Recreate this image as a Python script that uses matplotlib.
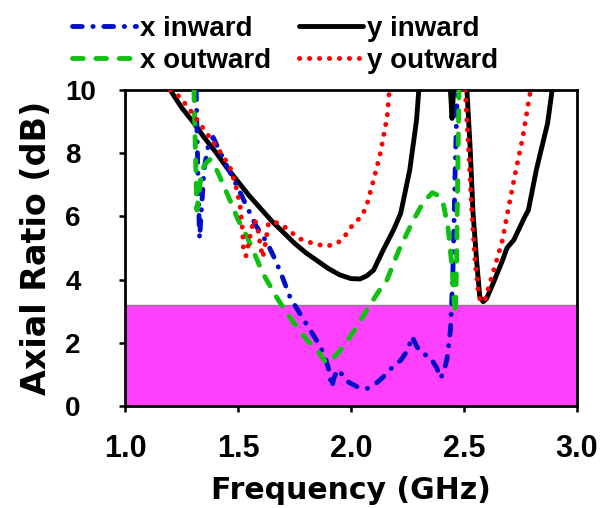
import numpy as np
import matplotlib.pyplot as plt
from matplotlib.lines import Line2D

plt.rcParams['font.family'] = ['Liberation Sans', 'DejaVu Sans']
plt.rcParams['font.weight'] = 'bold'

# x inward (blue dash-dot)
x_in_f = [1.315, 1.322, 1.33, 1.338, 1.35, 1.37, 1.39, 1.41, 1.45, 1.5, 1.54, 1.58,
          1.63, 1.66, 1.69, 1.73, 1.78, 1.82, 1.85, 1.88, 1.90, 1.915, 1.925, 1.94,
          1.96, 1.99, 2.03, 2.07, 2.10, 2.14, 2.18, 2.22, 2.25, 2.27, 2.29, 2.31,
          2.35, 2.38, 2.395, 2.41, 2.425, 2.44, 2.45, 2.455, 2.46, 2.47]
x_in_ar = [10, 7.5, 5.3, 6.2, 7.5, 8.3, 8.5, 8.2, 7.6, 6.9, 6.3, 5.7,
           5.15, 4.7, 4.2, 3.45, 2.85, 2.4, 2.05, 1.65, 1.2, 0.6, 0.9, 1.15,
           1.0, 0.75, 0.6, 0.55, 0.65, 0.9, 1.2, 1.45, 1.75, 2.2, 1.9, 1.68,
           1.55, 1.2, 0.88, 1.05, 1.5, 2.4, 4.0, 5.5, 7.2, 10]

# x outward (green dashed)
x_out_f = [1.305, 1.31, 1.318, 1.325, 1.34, 1.36, 1.376, 1.40, 1.42, 1.465, 1.50,
           1.54, 1.58, 1.61, 1.67, 1.72, 1.77, 1.81, 1.85, 1.89, 1.92, 1.965, 2.02,
           2.07, 2.12, 2.16, 2.21, 2.27, 2.32, 2.36, 2.39, 2.41, 2.43, 2.447, 2.455,
           2.462, 2.467, 2.472, 2.478]
x_out_ar = [10, 8.5, 6.2, 6.6, 7.47, 7.7, 7.8, 7.55, 7.25, 6.5, 5.9,
            5.35, 4.7, 4.2, 3.45, 2.9, 2.4, 2.05, 1.77, 1.36, 1.5, 1.87, 2.45,
            3.04, 3.6, 4.0, 4.9, 5.8, 6.45, 6.75, 6.65, 6.35, 5.6, 4.4, 3.45,
            2.9, 4.5, 7.2, 10]

# y inward (black solid), three pieces
y_in_f1 = [1.2, 1.25, 1.3, 1.35, 1.4, 1.45, 1.5, 1.55, 1.6, 1.65, 1.7, 1.75, 1.8,
           1.85, 1.9, 1.95, 2.0, 2.04, 2.07, 2.1, 2.14, 2.19, 2.22, 2.26, 2.29, 2.30]
y_in_ar1 = [10, 9.45, 9.0, 8.5, 8.05, 7.55, 7.1, 6.65, 6.25, 5.85, 5.5, 5.15, 4.85,
            4.6, 4.35, 4.15, 4.03, 4.02, 4.12, 4.3, 4.9, 5.6, 6.1, 7.47, 9.05, 10]
y_in_f2 = [2.440, 2.447, 2.454]
y_in_ar2 = [10, 9.1, 10]
y_in_f3 = [2.513, 2.527, 2.54, 2.557, 2.57, 2.585, 2.60, 2.63, 2.67, 2.69, 2.72,
           2.77, 2.785, 2.82, 2.87, 2.89]
y_in_ar3 = [10, 8.2, 6.1, 4.5, 3.45, 3.3, 3.4, 3.9, 4.6, 5.0, 5.25,
            6.0, 6.2, 7.47, 8.95, 10]

# y outward (red dotted), two pieces
y_out_f1 = [1.2, 1.243, 1.29, 1.33, 1.39, 1.43, 1.465, 1.495, 1.51, 1.52, 1.525,
            1.535, 1.553, 1.57, 1.585, 1.60, 1.61, 1.625, 1.635, 1.67, 1.71, 1.77,
            1.83, 1.89, 1.94, 1.97, 2.0, 2.05, 2.07, 2.10, 2.13, 2.16, 2.17]
y_out_ar1 = [10, 9.78, 9.35, 8.95, 8.35, 7.95, 7.56, 6.84, 6.3, 5.57, 4.84,
             4.75, 5.35, 5.9, 5.75, 5.03, 4.7, 5.3, 5.8, 5.8, 5.65, 5.3,
             5.15, 5.05, 5.15, 5.35, 5.66, 6.04, 6.36, 7.15, 8.0, 9.15, 10]
y_out_f2 = [2.505, 2.52, 2.535, 2.55, 2.565, 2.575, 2.59, 2.615, 2.64, 2.67, 2.695,
            2.73, 2.76, 2.785, 2.795]
y_out_ar2 = [10, 8.2, 6.1, 4.5, 3.5, 3.3, 3.3, 3.9, 4.5, 5.25, 6.2,
             7.47, 8.5, 9.6, 10]

ar_limit = 3.2
xticks = [1.0, 1.5, 2.0, 2.5, 3.0]
yticks = [0, 2, 4, 6, 8, 10]

fig = plt.figure(figsize=(6.04, 5.08), dpi=100)
ax = fig.add_axes([125 / 604, 1 - 406 / 508, 452 / 604, 316 / 508])

ax.axhspan(0, ar_limit, facecolor='#ff40ff', edgecolor='#a070a0', lw=1, zorder=1)

lw = 3.5
blue_kw = dict(color='#0010c8', lw=lw, dashes=(2.0, 2.2, 0.05, 2.2), dash_capstyle='round')
green_kw = dict(color='#10c010', lw=lw, dashes=(2.2, 2.6), dash_capstyle='round')
black_kw = dict(color='black', lw=lw, solid_capstyle='round')
red_kw = dict(color='#ff0000', lw=lw, dashes=(0.05, 2.0), dash_capstyle='round')

ax.plot(y_in_f1, y_in_ar1, zorder=3, **black_kw)
ax.plot(y_in_f2, y_in_ar2, zorder=3, **black_kw)
ax.plot(y_in_f3, y_in_ar3, zorder=3, **black_kw)
ax.plot(x_in_f, x_in_ar, zorder=4, **blue_kw)
ax.plot(x_out_f, x_out_ar, zorder=5, **green_kw)
ax.plot(y_out_f1, y_out_ar1, zorder=6, **red_kw)
ax.plot(y_out_f2, y_out_ar2, zorder=6, **red_kw)

ax.set_xlim(1.0, 3.0)
ax.set_ylim(0, 10)
ax.set_xticks(xticks)
ax.set_xticklabels(['%.1f' % t for t in xticks])
ax.set_yticks(yticks)
ax.set_yticklabels([str(t) for t in yticks])

for s in ax.spines.values():
    s.set_linewidth(2)
ax.tick_params(direction='out', length=4, width=1.8)
ax.tick_params(axis='x', pad=16, labelsize=22)
ax.tick_params(axis='y', pad=39, labelsize=20)
for lab in ax.get_yticklabels():
    lab.set_ha('left')

# the axis titles in the original are wider than Arial, DejaVu Bold fits them
ax.set_xlabel('Frequency (GHz)', fontsize=21.5, fontweight='bold', labelpad=9,
              family='DejaVu Sans')
ax.set_ylabel('Axial Ratio (dB)', fontsize=24, fontweight='bold', labelpad=9,
              family='DejaVu Sans')

handles = [Line2D([], [], **blue_kw), Line2D([], [], **green_kw),
           Line2D([], [], **black_kw), Line2D([], [], **red_kw)]
labels = ['x inward', 'x outward', 'y inward', 'y outward']
fig.legend(handles, labels, loc='upper left', bbox_to_anchor=(72 / 604, 1 - 16 / 508),
           ncol=2, frameon=False, fontsize=20, handlelength=2.3, handletextpad=0.15,
           columnspacing=1.0, labelspacing=0.2, borderpad=0, borderaxespad=0)

fig.savefig('out.png', dpi=100)
